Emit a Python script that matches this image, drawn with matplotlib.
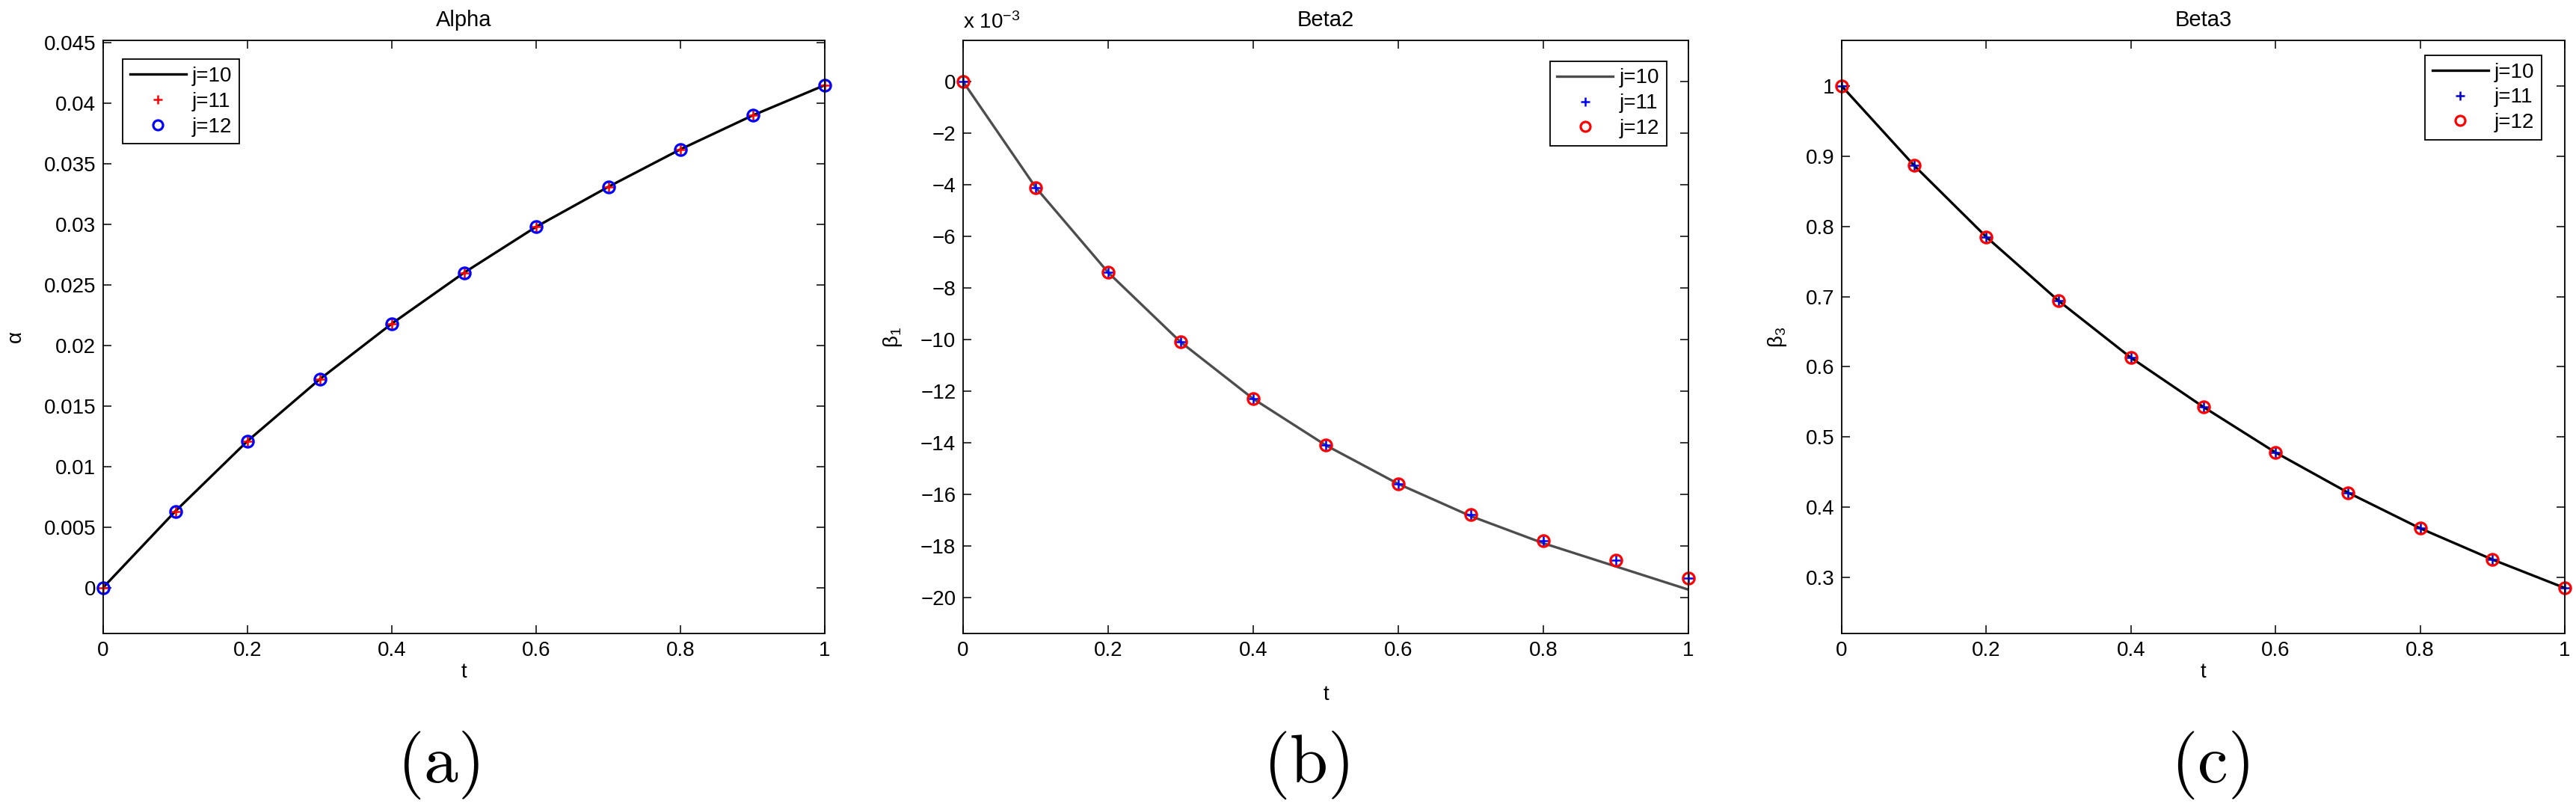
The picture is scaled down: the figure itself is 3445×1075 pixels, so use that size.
import matplotlib
matplotlib.use("Agg")
import matplotlib.pyplot as plt

plt.rcParams["font.family"] = ["Liberation Sans", "DejaVu Sans"]
plt.rcParams["mathtext.fontset"] = "custom"
plt.rcParams["mathtext.rm"] = "Liberation Sans"
plt.rcParams["mathtext.it"] = "Liberation Sans:italic"

# data
t = [0.0, 0.1, 0.2, 0.3, 0.4, 0.5, 0.6, 0.7, 0.8, 0.9, 1.0]

alpha_j10 = [0.0, 0.0063, 0.0121, 0.0172, 0.0218, 0.0260, 0.0298, 0.0331, 0.0362, 0.0390, 0.0415]
alpha_j11 = [0.0, 0.0063, 0.0121, 0.0172, 0.0218, 0.0260, 0.0298, 0.0331, 0.0362, 0.0390, 0.0415]
alpha_j12 = [0.0, 0.0063, 0.0121, 0.0172, 0.0218, 0.0260, 0.0298, 0.0331, 0.0362, 0.0390, 0.0415]

# beta1 in units of 1e-3
beta1_j10 = [0.0, -4.1, -7.4, -10.1, -12.3, -14.1, -15.6, -16.85, -17.9, -18.8, -19.7]
beta1_j11 = [0.0, -4.1, -7.4, -10.1, -12.3, -14.1, -15.6, -16.8, -17.8, -18.55, -19.25]
beta1_j12 = [0.0, -4.1, -7.4, -10.1, -12.3, -14.1, -15.6, -16.8, -17.8, -18.55, -19.25]

beta3_j10 = [1.0, 0.887, 0.785, 0.694, 0.613, 0.543, 0.478, 0.421, 0.370, 0.3255, 0.285]
beta3_j11 = [1.0, 0.887, 0.785, 0.694, 0.613, 0.543, 0.478, 0.421, 0.370, 0.3255, 0.285]
beta3_j12 = [1.0, 0.887, 0.785, 0.694, 0.613, 0.543, 0.478, 0.421, 0.370, 0.3255, 0.285]

x_ticks = [0, 0.2, 0.4, 0.6, 0.8, 1.0]
x_ticklabels = ["0", "0.2", "0.4", "0.6", "0.8", "1"]
alpha_ticks = [0, 0.005, 0.01, 0.015, 0.02, 0.025, 0.03, 0.035, 0.04, 0.045]
alpha_ticklabels = ["0", "0.005", "0.01", "0.015", "0.02", "0.025", "0.03", "0.035", "0.04", "0.045"]
beta1_ticks = [0, -2, -4, -6, -8, -10, -12, -14, -16, -18, -20]
beta3_ticks = [0.3, 0.4, 0.5, 0.6, 0.7, 0.8, 0.9, 1.0]
beta3_ticklabels = ["0.3", "0.4", "0.5", "0.6", "0.7", "0.8", "0.9", "1"]
legend_labels = ["j=10", "j=11", "j=12"]

W, H = 3445, 1075
fig = plt.figure(figsize=(W / 100, H / 100), dpi=100)


def px_axes(left, right, top, bottom):
    return fig.add_axes([left / W, (H - bottom) / H, (right - left) / W, (bottom - top) / H])


def style(ax, title):
    ax.set_title(title, fontsize=21, pad=14)
    ax.tick_params(direction="in", length=8, width=1.1, top=True, right=True,
                   labelsize=20, pad=7)
    for s in ax.spines.values():
        s.set_linewidth(1.3)
    ax.set_xlim(0, 1)
    ax.set_xticks(x_ticks)
    ax.set_xticklabels(x_ticklabels)


def draw(ax, y10, y11, y12, line_color, plus_color, circ_color):
    ax.plot(t, y10, color=line_color, lw=2.4, label=legend_labels[0])
    ax.plot(t, y11, ls="none", marker="+", ms=11, mew=1.8, color=plus_color,
            label=legend_labels[1], clip_on=False)
    ax.plot(t, y12, ls="none", marker="o", ms=11, mew=2.3, mfc="none",
            mec=circ_color, label=legend_labels[2], clip_on=False)


def legend(ax, loc, anchor):
    leg = ax.legend(loc=loc, bbox_to_anchor=anchor, fontsize=20, frameon=True,
                    fancybox=False, framealpha=1, edgecolor="black",
                    borderaxespad=0, handlelength=2.7, handletextpad=0.3,
                    labelspacing=0.28, borderpad=0.35, numpoints=1,
                    markerscale=0.85)
    leg.get_frame().set_linewidth(1.3)


# panel a
ax1 = px_axes(138, 1103, 54, 847)
draw(ax1, alpha_j10, alpha_j11, alpha_j12, "black", "red", "blue")
style(ax1, "Alpha")
ax1.set_ylim(-0.0038, 0.0452)
ax1.set_yticks(alpha_ticks)
ax1.set_yticklabels(alpha_ticklabels)
ax1.set_ylabel("\u03b1", fontsize=20, labelpad=18)
ax1.set_xlabel("t", fontsize=20, labelpad=2)
legend(ax1, "upper left", (0.027, 0.968))

# panel b
ax2 = px_axes(1288, 2258, 54, 847)
draw(ax2, beta1_j10, beta1_j11, beta1_j12, "#4d4d4d", "blue", "red")
style(ax2, "Beta2")
ax2.set_ylim(-21.4, 1.6)
ax2.set_yticks(beta1_ticks)
ax2.set_yticklabels([str(v).replace("-", "\u2212") for v in beta1_ticks])
ax2.set_ylabel(r"$\mathregular{\beta_1}$", fontsize=20, labelpad=16)
ax2.set_xlabel("t", fontsize=20, labelpad=24)
ax2.text(0.0, 1.012, r"x 10$^{\mathregular{-3}}$", transform=ax2.transAxes,
         fontsize=20, ha="left", va="bottom")
legend(ax2, "upper right", (0.970, 0.965))

# panel c
ax3 = px_axes(2463, 3430, 54, 847)
draw(ax3, beta3_j10, beta3_j11, beta3_j12, "black", "#0000cc", "red")
style(ax3, "Beta3")
ax3.set_ylim(0.2202, 1.065)
ax3.set_yticks(beta3_ticks)
ax3.set_yticklabels(beta3_ticklabels)
ax3.set_ylabel(r"$\mathregular{\beta_3}$", fontsize=20, labelpad=16)
ax3.set_xlabel("t", fontsize=20, labelpad=2)
legend(ax3, "upper right", (0.968, 0.975))

# sub-figure captions
for xc, lab in [(0.170, "(a)"), (0.507, "(b)"), (0.858, "(c)")]:
    fig.text(xc, 0.048, r"$\mathrm{" + lab + "}$", fontsize=66, ha="center",
             va="center", math_fontfamily="cm")

fig.savefig("out.png", dpi=100)
